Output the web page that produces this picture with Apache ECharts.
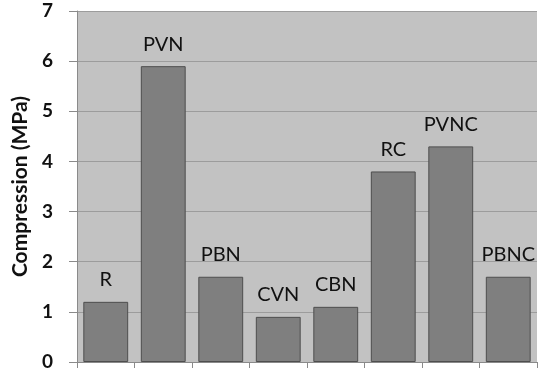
<!DOCTYPE html>
<html>
<head>
<meta charset="utf-8">
<script src="https://cdn.jsdelivr.net/npm/echarts@6/dist/echarts.min.js"></script>
<style>
html,body{margin:0;padding:0;background:#fff;}
#chart{width:539px;height:381px;}
</style>
</head>
<body>
<div id="chart"></div>
<script>
// Compressive strength per sample
const categories = ['R', 'PVN', 'PBN', 'CVN', 'CBN', 'RC', 'PVNC', 'PBNC'];
const compression = [1.2, 5.9, 1.7, 0.9, 1.1, 3.8, 4.3, 1.7];
const yTicks = [0, 1, 2, 3, 4, 5, 6, 7];

const font = 'Lato, "Open Sans", sans-serif';
const chart = echarts.init(document.getElementById('chart'), null, { renderer: 'canvas' });
chart.setOption({
  animation: false,
  backgroundColor: '#ffffff',
  grid: {
    left: 77, right: 2, top: 11, bottom: 19,
    show: true, backgroundColor: '#c2c2c2', borderWidth: 0
  },
  xAxis: {
    type: 'category',
    data: categories,
    boundaryGap: true,
    axisLine: { show: true, lineStyle: { color: '#8a8a8a', width: 1 } },
    axisTick: { show: true, alignWithLabel: false, length: 6, lineStyle: { color: '#8a8a8a' } },
    axisLabel: { show: false }
  },
  yAxis: {
    type: 'value',
    min: yTicks[0], max: yTicks[yTicks.length - 1], interval: 1,
    name: 'Compression (MPa)',
    nameLocation: 'middle',
    nameGap: 43,
    nameTextStyle: { fontFamily: font, fontSize: 21, fontWeight: 'bold', color: '#111' },
    axisLine: { show: true, lineStyle: { color: '#8a8a8a', width: 1 } },
    axisTick: { show: true, length: 8, lineStyle: { color: '#8a8a8a' } },
    axisLabel: { fontFamily: font, fontSize: 19, fontWeight: 'bold', color: '#111', margin: 24 },
    splitLine: { show: true, lineStyle: { color: '#9c9c9c', width: 1 } }
  },
  series: [{
    type: 'bar',
    data: compression,
    barCategoryGap: '22%',
    itemStyle: { color: '#7f7f7f', borderColor: '#4e4e4e', borderWidth: 1 },
    label: {
      show: true, position: 'top', distance: 12,
      formatter: p => categories[p.dataIndex],
      fontFamily: font, fontSize: 20, color: '#111'
    }
  }]
});
</script>
</body>
</html>
